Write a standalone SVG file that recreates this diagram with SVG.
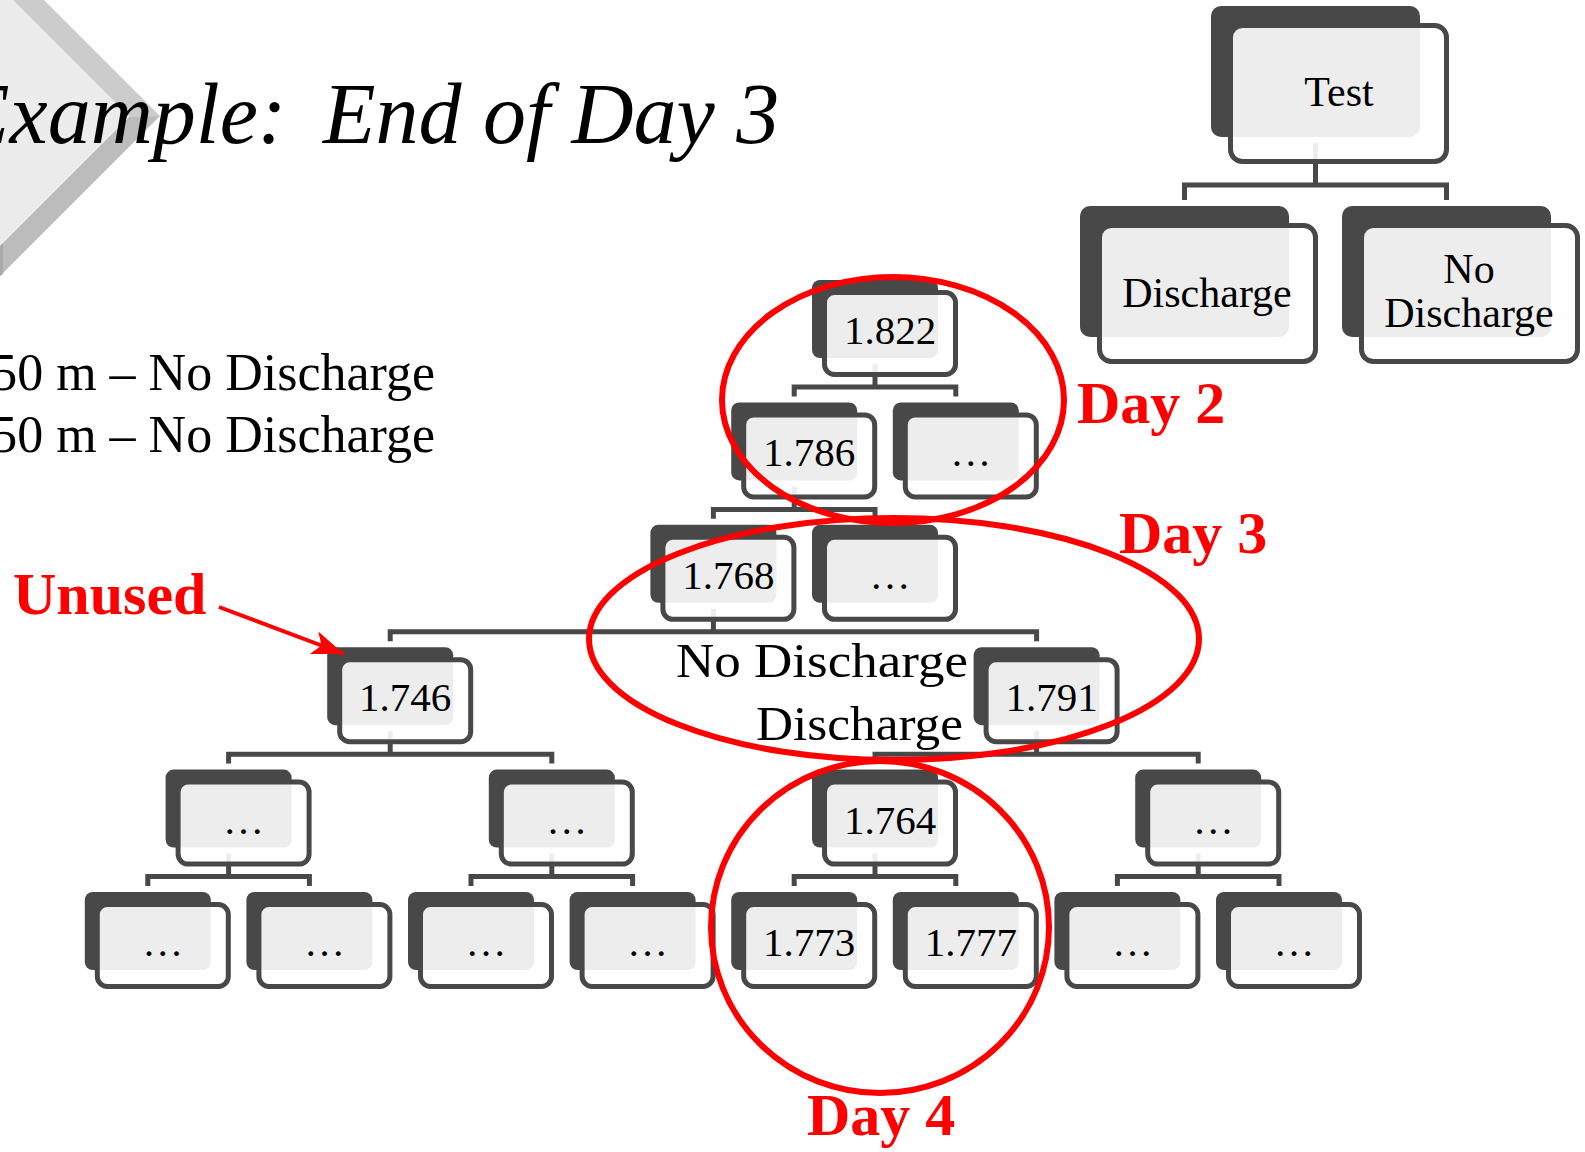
<svg xmlns="http://www.w3.org/2000/svg" xmlns:xlink="http://www.w3.org/1999/xlink" width="1585" height="1152" viewBox="0 0 1585 1152">
  <style>
    .back { fill: #484848; }
    .front { fill: #ffffff; fill-opacity: 0.9; stroke: #484848; stroke-width: 5; }
    .lbl { font-family: "Liberation Serif", "Times New Roman", serif; font-size: 41px; fill: #000; text-anchor: middle; }
    .big { font-size: 42px; }
    .conn path { fill: none; stroke: #484848; stroke-width: 5; stroke-linejoin: miter; }
    .ring { fill: none; stroke: #ff0000; stroke-width: 6; }
    .red { font-family: "Liberation Serif", "Times New Roman", serif; font-weight: bold; font-size: 60px; fill: #ff0000; }
    .body { font-family: "Liberation Serif", "Times New Roman", serif; font-size: 52px; fill: #000; }
    .title { font-family: "Liberation Serif", "Times New Roman", serif; font-style: italic; font-size: 86px; fill: #000; }
    .side { font-family: "Liberation Serif", "Times New Roman", serif; font-size: 48px; fill: #000; text-anchor: end; }
  </style>
  <defs>
    <!-- small node: dark plate with a translucent white card on top -->
    <g id="frame-s">
      <rect class="back" x="0" y="0" width="126" height="78" rx="8"/>
      <rect class="front" x="12.5" y="12.5" width="131" height="82" rx="10"/>
    </g>
    <!-- large node used in the legend tree -->
    <g id="frame-l">
      <rect class="back" x="0" y="0" width="209" height="131" rx="10"/>
      <rect class="front" x="19.5" y="19.5" width="216" height="136" rx="12"/>
    </g>
    <marker id="arrowhead" markerUnits="userSpaceOnUse" markerWidth="40" markerHeight="30" viewBox="-34 -15 36 30" refX="0" refY="0" orient="auto">
      <path d="M0,0 L-32,-12 L-24,0 L-32,12 Z" fill="#ff0000"/>
    </marker>
  </defs>

  <rect width="1585" height="1152" fill="#ffffff"/>

  <!-- bevelled chevron in the corner -->
  <g id="chevron">
    <polygon points="0,0 13,0 129.5,116.5 0,246" fill="#ececec"/>
    <polygon points="13,0 44,0 160,116 129.5,116.5" fill="#cccccc"/>
    <polygon points="129.5,116.5 160,116 0,276 0,246" fill="#bcbcbc"/>
    <polygon points="0,246 3,243 3,274 0,276" fill="#aaaaaa"/>
  </g>

  <text class="title" y="143"><tspan x="-43">Example:</tspan><tspan x="323">End of Day 3</tspan></text>

  <text class="body" x="435" y="390" text-anchor="end">50 m – No Discharge</text>
  <text class="body" x="435" y="452" text-anchor="end">50 m – No Discharge</text>

  <!-- connectors -->
  <g id="connectors" class="conn">
    <path d="M1315.5,143 V185 M1184.5,200 V185 H1446.5 V200"/>
    <path d="M875,364 V387 M794.2,396.4 V387 H955.8 V396.4"/>
    <path d="M794.2,486.4 V509.4 M713.4,518.8 V509.4 H875 V518.8"/>
    <path d="M713.4,608.8 V631.8 M390.2,641.2 V631.8 H1036.6 V641.2"/>
    <path d="M390.2,731.2 V754.2 M228.6,763.6 V754.2 H551.8 V763.6"/>
    <path d="M1036.6,731.2 V754.2 M875,763.6 V754.2 H1198.2 V763.6"/>
    <path d="M228.6,853.6 V876.6 M147.8,886 V876.6 H309.4 V886"/>
    <path d="M551.8,853.6 V876.6 M471,886 V876.6 H632.6 V886"/>
    <path d="M875,853.6 V876.6 M794.2,886 V876.6 H955.8 V886"/>
    <path d="M1198.2,853.6 V876.6 M1117.4,886 V876.6 H1279 V886"/>
  </g>

  <!-- legend tree -->
  <g id="node-test" transform="translate(1211,6)">
    <use xlink:href="#frame-l"/>
    <text class="lbl big" x="128" y="100">Test</text>
  </g>
  <g id="node-discharge" transform="translate(1080,206)">
    <use xlink:href="#frame-l"/>
    <text class="lbl big" x="127" y="101">Discharge</text>
  </g>
  <g id="node-no-discharge" transform="translate(1342,206)">
    <use xlink:href="#frame-l"/>
    <text class="lbl big" x="127" y="77">No</text>
    <text class="lbl big" x="127" y="121">Discharge</text>
  </g>

  <!-- decision tree -->
  <g id="node-1822" transform="translate(812,280)"><use xlink:href="#frame-s"/><text class="lbl" x="78" y="64">1.822</text></g>
  <g id="node-1786" transform="translate(731.2,402.4)"><use xlink:href="#frame-s"/><text class="lbl" x="78" y="64">1.786</text></g>
  <g id="node-d2-more" transform="translate(892.8,402.4)"><use xlink:href="#frame-s"/><text class="lbl" x="78" y="64">…</text></g>
  <g id="node-1768" transform="translate(650.4,524.8)"><use xlink:href="#frame-s"/><text class="lbl" x="78" y="64">1.768</text></g>
  <g id="node-d3-more" transform="translate(812,524.8)"><use xlink:href="#frame-s"/><text class="lbl" x="78" y="64">…</text></g>
  <g id="node-1746" transform="translate(327.2,647.2)"><use xlink:href="#frame-s"/><text class="lbl" x="78" y="64">1.746</text></g>
  <g id="node-1791" transform="translate(973.6,647.2)"><use xlink:href="#frame-s"/><text class="lbl" x="78" y="64">1.791</text></g>
  <g id="node-a1" transform="translate(165.6,769.6)"><use xlink:href="#frame-s"/><text class="lbl" x="78" y="64">…</text></g>
  <g id="node-a2" transform="translate(488.8,769.6)"><use xlink:href="#frame-s"/><text class="lbl" x="78" y="64">…</text></g>
  <g id="node-1764" transform="translate(812,769.6)"><use xlink:href="#frame-s"/><text class="lbl" x="78" y="64">1.764</text></g>
  <g id="node-a4" transform="translate(1135.2,769.6)"><use xlink:href="#frame-s"/><text class="lbl" x="78" y="64">…</text></g>
  <g id="node-b1" transform="translate(84.8,892)"><use xlink:href="#frame-s"/><text class="lbl" x="78" y="64">…</text></g>
  <g id="node-b2" transform="translate(246.4,892)"><use xlink:href="#frame-s"/><text class="lbl" x="78" y="64">…</text></g>
  <g id="node-b3" transform="translate(408,892)"><use xlink:href="#frame-s"/><text class="lbl" x="78" y="64">…</text></g>
  <g id="node-b4" transform="translate(569.6,892)"><use xlink:href="#frame-s"/><text class="lbl" x="78" y="64">…</text></g>
  <g id="node-1773" transform="translate(731.2,892)"><use xlink:href="#frame-s"/><text class="lbl" x="78" y="64">1.773</text></g>
  <g id="node-1777" transform="translate(892.8,892)"><use xlink:href="#frame-s"/><text class="lbl" x="78" y="64">1.777</text></g>
  <g id="node-b7" transform="translate(1054.4,892)"><use xlink:href="#frame-s"/><text class="lbl" x="78" y="64">…</text></g>
  <g id="node-b8" transform="translate(1216,892)"><use xlink:href="#frame-s"/><text class="lbl" x="78" y="64">…</text></g>

  <!-- branch labels for the 1.768 split -->
  <text class="side" x="968" y="677" textLength="292" lengthAdjust="spacingAndGlyphs">No Discharge</text>
  <text class="side" x="963" y="740" textLength="207" lengthAdjust="spacingAndGlyphs">Discharge</text>

  <!-- day highlights -->
  <g id="highlights">
    <ellipse class="ring" cx="893" cy="400" rx="171" ry="123"/>
    <ellipse class="ring" cx="894" cy="639" rx="305" ry="121"/>
    <ellipse class="ring" cx="880" cy="927" rx="169" ry="166"/>
    <text class="red" x="1077" y="423">Day 2</text>
    <text class="red" x="1119" y="553">Day 3</text>
    <text class="red" x="807" y="1135">Day 4</text>
    <text class="red" x="13" y="614">Unused</text>
    <line x1="219" y1="607" x2="344" y2="654" stroke="#ff0000" stroke-width="4" marker-end="url(#arrowhead)"/>
  </g>
</svg>
